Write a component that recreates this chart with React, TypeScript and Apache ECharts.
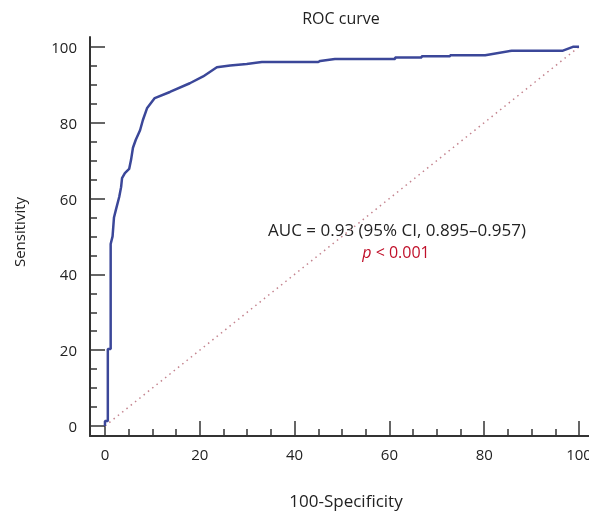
import React, { useEffect, useRef } from "react";
import * as echarts from "echarts";

const rocX = [0, 0, 0.6, 0.6, 1.2, 1.2, 1.6, 1.9, 2.3, 3.0, 3.4, 3.6, 4.2, 5.1, 5.5, 5.9, 6.5, 7.4, 8.0, 8.9, 10.5, 13.7, 17.9, 20.7, 23.6, 26.4, 29.9, 33.1, 45.0, 45.4, 48.5, 61.2, 61.2, 66.8, 66.8, 72.8, 72.8, 80.2, 85.8, 96.6, 98.7, 100];
const rocY = [0, 1.3, 1.3, 20.3, 20.3, 48, 50, 55, 57, 60.4, 63, 65.4, 66.7, 67.8, 70.2, 73.4, 75.5, 78, 80.7, 83.9, 86.5, 88.1, 90.4, 92.2, 94.6, 95.1, 95.5, 96.0, 96.0, 96.3, 96.8, 96.8, 97.2, 97.2, 97.5, 97.5, 97.8, 97.8, 99.0, 99.0, 100, 100];
const diagX = [0, 100];
const diagY = [0, 100];
const majorTicks = [0, 20, 40, 60, 80, 100];
const minorTicks = [5, 10, 15, 25, 30, 35, 45, 50, 55, 65, 70, 75, 85, 90, 95];

const titleText = "ROC curve";
const xName = "100-Specificity";
const yName = "Sensitivity";
const aucText = "AUC = 0.93 (95% CI, 0.895–0.957)";

export default function App() {
  const ref = useRef<HTMLDivElement>(null);
  useEffect(() => {
    const chart = echarts.init(ref.current!, null, { renderer: "svg" });
    const font = "'Open Sans', sans-serif";
    const axisColor = "#333";
    const xMin = -3.16, xMax = 102.1, yMin = -2.64, yMax = 102.6;
    const makeX = (ticks: number[], len: number, showLabel: boolean, showLine: boolean) => ({
      type: "value",
      min: xMin,
      max: xMax,
      position: "bottom",
      axisLine: { show: showLine, onZero: false, lineStyle: { color: axisColor, width: 2 } },
      axisTick: { show: true, inside: true, length: len, customValues: ticks, lineStyle: { color: axisColor, width: 1.5 } },
      axisLabel: { show: showLabel, customValues: ticks, margin: 10, color: "#222", fontSize: 15, fontFamily: font, hideOverlap: false, showMaxLabel: true },
      splitLine: { show: false },
    });
    const makeY = (ticks: number[], len: number, showLabel: boolean, showLine: boolean) => ({
      type: "value",
      min: yMin,
      max: yMax,
      position: "left",
      axisLine: { show: showLine, onZero: false, lineStyle: { color: axisColor, width: 2 } },
      axisTick: { show: true, inside: true, length: len, customValues: ticks, lineStyle: { color: axisColor, width: 1.5 } },
      axisLabel: { show: showLabel, customValues: ticks, margin: 13, color: "#222", fontSize: 15, fontFamily: font },
      splitLine: { show: false },
    });
    chart.setOption({
      animation: false,
      grid: { left: 90, right: 0, top: 37, bottom: 76, containLabel: false, outerBoundsMode: "none" },
      xAxis: [makeX(majorTicks, 15, true, true), makeX(minorTicks, 7, false, false)],
      yAxis: [makeY(majorTicks, 15, true, true), makeY(minorTicks, 7, false, false)],
      series: [
        {
          type: "line",
          data: diagX.map((x, i) => [x, diagY[i]]),
          showSymbol: false,
          lineStyle: { color: "#c4848f", width: 1.5, type: [1.5, 4] },
          z: 1,
        },
        {
          type: "line",
          data: rocX.map((x, i) => [x, rocY[i]]),
          showSymbol: false,
          lineStyle: { color: "#3b4799", width: 2.5 },
          z: 2,
        },
      ],
      graphic: [
        { type: "text", x: 341, y: 18, style: { text: titleText, fontSize: 16, fontFamily: font, fill: "#222", textAlign: "center", textVerticalAlign: "middle" } },
        { type: "text", x: 346, y: 500, style: { text: xName, fontSize: 17, fontFamily: font, fill: "#222", textAlign: "center", textVerticalAlign: "middle" } },
        { type: "text", x: 19, y: 232, rotation: Math.PI / 2, style: { text: yName, fontSize: 15, fontFamily: font, fill: "#222", textAlign: "center", textVerticalAlign: "middle" } },
        { type: "text", x: 397, y: 229, style: { text: aucText, fontSize: 17, fontFamily: font, fill: "#222", textAlign: "center", textVerticalAlign: "middle" } },
        {
          type: "text", x: 396, y: 252,
          style: {
            text: "{i|p}{n| < 0.001}",
            textAlign: "center", textVerticalAlign: "middle",
            rich: {
              i: { fontStyle: "italic", fontSize: 16, fontFamily: font, fill: "#c0102a", color: "#c0102a" },
              n: { fontSize: 16, fontFamily: font, fill: "#c0102a", color: "#c0102a" },
            },
          },
        },
      ],
    });
    return () => chart.dispose();
  }, []);
  return <div ref={ref} style={{ position: "fixed", left: 0, top: 0, width: 589, height: 512 }} />;
}
